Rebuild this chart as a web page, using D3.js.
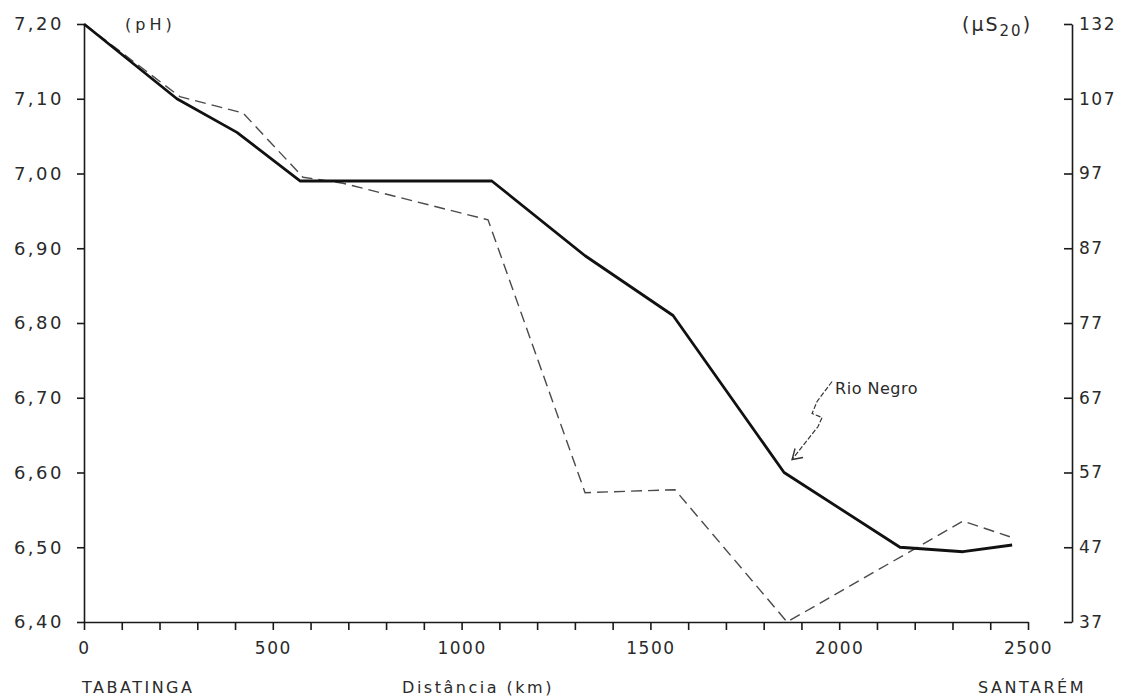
<!DOCTYPE html>
<html>
<head>
<meta charset="utf-8">
<script src="https://cdn.jsdelivr.net/npm/d3@7"></script>
<style>
body { margin: 0; background: #fff; }
svg text { font-family: "DejaVu Sans", sans-serif; fill: #2a2a2a; }
</style>
</head>
<body>
<svg width="1128" height="697"></svg>
<script>
// pH (solid line, left axis)
var phKm = [0, 246, 405, 572, 1080, 1327, 1560, 1854, 2161, 2328, 2458];
var phValues = [7.20, 7.10, 7.055, 6.99, 6.99, 6.89, 6.81, 6.60, 6.50, 6.494, 6.503];

// conductivity (dashed line, right axis)
var condKm = [0, 254, 421, 580, 686, 1070, 1327, 1565, 1862, 2328, 2452];
var condValues = [132, 107.7, 105.1, 96.5, 95.7, 90.8, 54.3, 54.7, 37, 50.5, 48.4];

var phTicks = [6.40, 6.50, 6.60, 6.70, 6.80, 6.90, 7.00, 7.10, 7.20];
var condTicks = [37, 47, 57, 67, 77, 87, 97, 107, 132];
var kmTicks = d3.range(0, 2501, 100);

var svg = d3.select("svg");

var plotLeft = 84, plotRight = 1028, plotTop = 24, plotBottom = 622, rightAxisX = 1072;

var x = d3.scaleLinear().domain([0, 2500]).range([plotLeft, plotRight]);
var yPh = d3.scaleLinear().domain([6.40, 7.20]).range([plotBottom, plotTop]);
// right axis is broken above 107
var yCond = d3.scaleLinear().domain([37, 107, 132]).range([plotBottom, yPh(7.10), plotTop]);

var comma = function(d) { return d3.format(".2f")(d).replace(".", ","); };

function styleAxis(g) {
    g.attr("font-family", null).attr("font-size", 17);
    g.selectAll("path, line").attr("stroke", "#1a1a1a").attr("stroke-width", 1.6);
    g.selectAll("text").style("letter-spacing", "1.5px");
}

svg.append("g")
    .attr("transform", "translate(" + plotLeft + ",0)")
    .call(d3.axisLeft(yPh).tickValues(phTicks).tickFormat(comma)
        .tickSizeInner(7).tickSizeOuter(0).tickPadding(13))
    .call(styleAxis)
    .selectAll("text").attr("font-size", 18).style("letter-spacing", "2.5px");

svg.append("g")
    .attr("transform", "translate(0," + plotBottom + ")")
    .call(d3.axisBottom(x).tickValues(kmTicks)
        .tickFormat(function(d) { return d % 500 === 0 ? d : ""; })
        .tickSizeInner(8).tickSizeOuter(0).tickPadding(12))
    .call(styleAxis);

svg.append("g")
    .attr("transform", "translate(" + rightAxisX + ",0)")
    .call(d3.axisRight(yCond).tickValues(condTicks)
        .tickSizeInner(-8).tickSizeOuter(0).tickPadding(7))
    .call(styleAxis);

// lines
var phLine = d3.line()
    .x(function(d, i) { return x(phKm[i]); })
    .y(function(d) { return yPh(d); });

var condLine = d3.line()
    .x(function(d, i) { return x(condKm[i]); })
    .y(function(d) { return yCond(d); });

svg.append("path")
    .datum(condValues)
    .attr("d", condLine)
    .attr("fill", "none")
    .attr("stroke", "#4a4a4a")
    .attr("stroke-width", 1.4)
    .attr("stroke-dasharray", "11,6");

svg.append("path")
    .datum(phValues)
    .attr("d", phLine)
    .attr("fill", "none")
    .attr("stroke", "#111")
    .attr("stroke-width", 2.8)
    .attr("stroke-linejoin", "round");

// unit labels
svg.append("text")
    .attr("x", 125).attr("y", 30)
    .attr("font-size", 16)
    .style("letter-spacing", "4px")
    .text("(pH)");

var us = svg.append("text")
    .attr("x", 962).attr("y", 31)
    .attr("font-size", 19)
    .style("letter-spacing", "2px");
us.append("tspan").text("(\u00b5S");
us.append("tspan").attr("font-size", 15).attr("dy", 5).text("20");
us.append("tspan").attr("dy", -5).text(")");

// place labels under the axis
svg.append("text")
    .attr("x", plotLeft - 2).attr("y", 693)
    .attr("font-size", 16)
    .style("letter-spacing", "2.5px")
    .text("TABATINGA");

svg.append("text")
    .attr("x", 478).attr("y", 693)
    .attr("text-anchor", "middle")
    .attr("font-size", 16)
    .style("letter-spacing", "2.5px")
    .text("Dist\u00e2ncia (km)");

svg.append("text")
    .attr("x", x(2500) + 4).attr("y", 693)
    .attr("text-anchor", "middle")
    .attr("font-size", 16)
    .style("letter-spacing", "2.5px")
    .text("SANTAR\u00c9M");

// Rio Negro annotation, anchored at the 6.60 point
var rnX = x(phKm[7]), rnY = yPh(phValues[7]);
var tipX = rnX + 8, tipY = rnY - 13;

svg.append("text")
    .attr("x", tipX + 43).attr("y", tipY - 66)
    .attr("font-size", 16)
    .style("letter-spacing", "0.5px")
    .text("Rio Negro");

svg.append("path")
    .attr("d", "M" + (tipX + 40) + "," + (tipY - 78) +
        " L" + (tipX + 25) + "," + (tipY - 58) +
        " L" + (tipX + 20) + "," + (tipY - 46) +
        " L" + (tipX + 30) + "," + (tipY - 42) +
        " L" + (tipX + 26) + "," + (tipY - 33) +
        " L" + tipX + "," + tipY)
    .attr("fill", "none")
    .attr("stroke", "#333")
    .attr("stroke-width", 1.2)
    .attr("stroke-dasharray", "5,2");

svg.append("path")
    .attr("d", "M" + (tipX + 11) + "," + (tipY - 2) +
        " L" + tipX + "," + tipY +
        " L" + (tipX + 3) + "," + (tipY - 11))
    .attr("fill", "none")
    .attr("stroke", "#333")
    .attr("stroke-width", 1.4);
</script>
</body>
</html>
